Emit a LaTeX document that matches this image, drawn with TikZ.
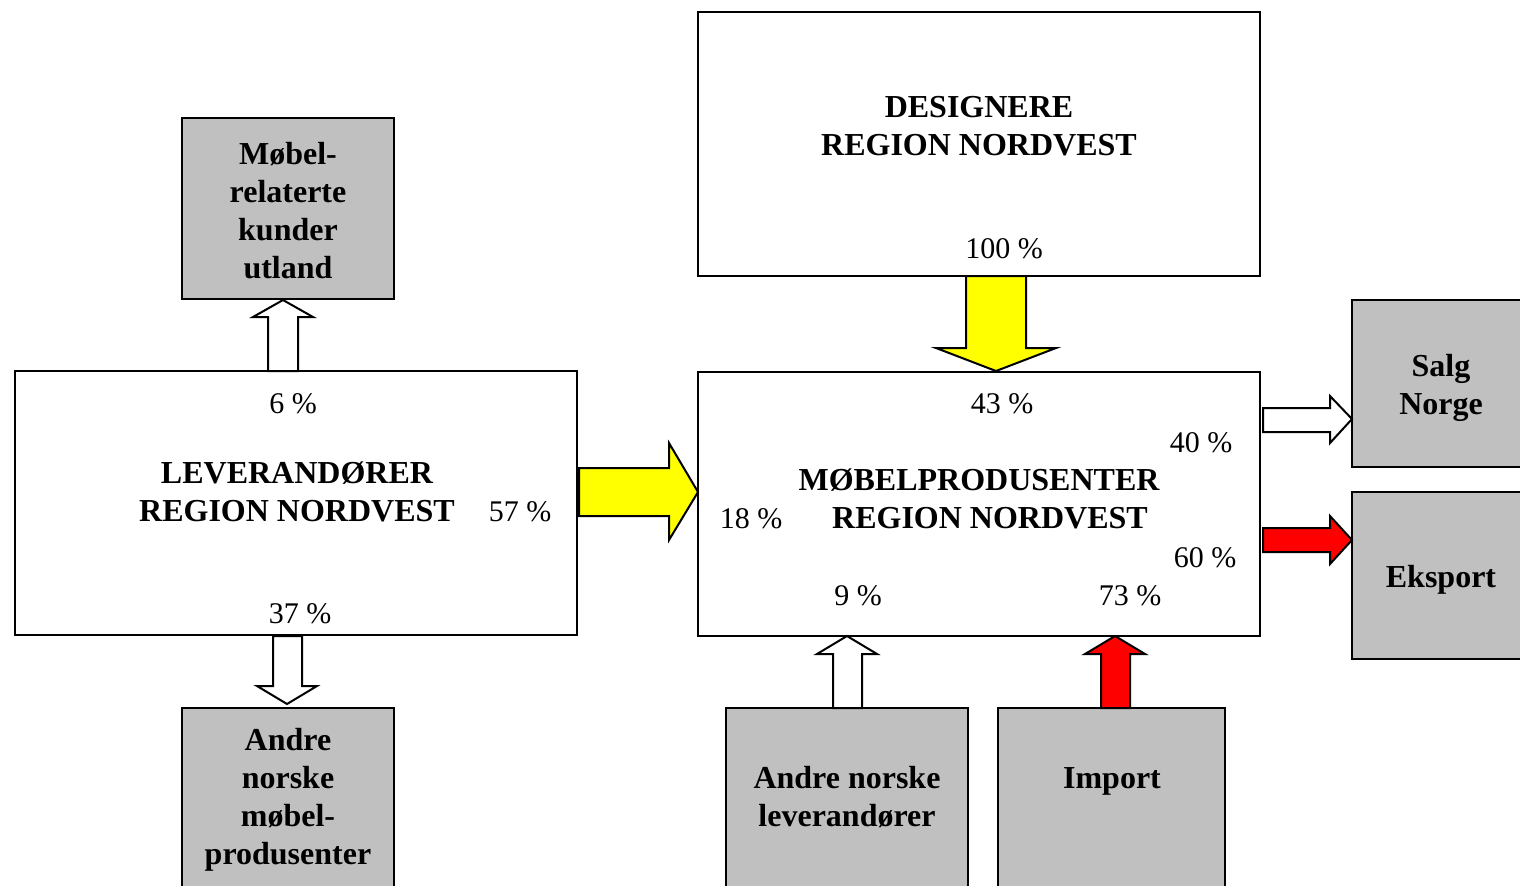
\documentclass[tikz,border=0pt]{standalone}
\usepackage{fontspec}
\setmainfont{Liberation Serif}
\definecolor{boxgray}{HTML}{C0C0C0}
\definecolor{ayellow}{HTML}{FFFF00}
\definecolor{ared}{HTML}{FF0000}
\begin{document}
\begin{tikzpicture}[x=0.5pt,y=-0.5pt,
  box/.style={draw=black, line width=1pt, inner sep=0pt, rectangle},
  graybox/.style={box, fill=boxgray},
  lbl/.style={font=\fontsize{16}{19}\selectfont\bfseries, align=center, inner sep=0pt},
  pct/.style={font=\fontsize{15}{18}\selectfont, inner sep=0pt},
  blockarrow/.style={draw=black, line width=1pt, line join=miter}]
\useasboundingbox[fill=white] (0,0) rectangle (1520,885);
% boxes
\node[graybox, minimum width=106pt, minimum height=90.5pt] (mobel) at (288,208.5) {};
\node[box, minimum width=281pt, minimum height=132pt] (lev) at (296,503) {};
\node[graybox, minimum width=106pt, minimum height=96pt] (andre) at (288,804) {};
\node[box, minimum width=281pt, minimum height=132pt] (des) at (979,144) {};
\node[box, minimum width=281pt, minimum height=132pt] (mp) at (979,504) {};
\node[graybox, minimum width=89pt, minimum height=83.5pt] (salg) at (1441,383.5) {};
\node[graybox, minimum width=89pt, minimum height=83.5pt] (eks) at (1441,575.5) {};
\node[graybox, minimum width=121pt, minimum height=96pt] (anl) at (847,804) {};
\node[graybox, minimum width=113.5pt, minimum height=96pt] (imp) at (1111.5,804) {};
% block arrows
\draw[blockarrow, fill=white] (268,371) -- (268,317) -- (253,317) -- (283,300) -- (313,317) -- (298,317) -- (298,371) -- cycle;
\draw[blockarrow, fill=white] (273,636) -- (273,686) -- (257,686) -- (287,704) -- (317,686) -- (302,686) -- (302,636) -- cycle;
\draw[blockarrow, fill=ayellow] (579,468) -- (669,468) -- (669,443) -- (698,492) -- (669,540) -- (669,516) -- (579,516) -- cycle;
\draw[blockarrow, fill=ayellow] (966,276) -- (966,348) -- (936,348) -- (996,371) -- (1056,348) -- (1026,348) -- (1026,276) -- cycle;
\draw[blockarrow, fill=white] (1263,408) -- (1330,408) -- (1330,396) -- (1352,419) -- (1330,443) -- (1330,432) -- (1263,432) -- cycle;
\draw[blockarrow, fill=ared] (1263,528) -- (1330,528) -- (1330,516) -- (1352,540) -- (1330,564) -- (1330,552) -- (1263,552) -- cycle;
\draw[blockarrow, fill=white] (833,708) -- (833,654) -- (817,654) -- (847,636) -- (877,654) -- (862,654) -- (862,708) -- cycle;
\draw[blockarrow, fill=ared] (1101,708) -- (1101,654) -- (1085,654) -- (1115,636) -- (1145,654) -- (1130,654) -- (1130,708) -- cycle;
% labels
\node[lbl] (tmobel) at (288,211) {Møbel-\\relaterte\\kunder\\utland};
\node[lbl] (tlev) at (297,492) {LEVERANDØRER\\REGION NORDVEST};
\node[lbl] (tandre) at (288,800) {Andre\\norske\\møbel-\\produsenter};
\node[lbl] (tdes) at (979,126) {DESIGNERE\\REGION NORDVEST};
\node[lbl] (tmp1) at (979,480) {MØBELPRODUSENTER};
\node[lbl] (tmp2) at (990,518) {REGION NORDVEST};
\node[lbl] (tsalg) at (1441,388) {Salg\\Norge};
\node[lbl] (teks) at (1441,580) {Eksport};
\node[lbl] (tanl) at (847,797) {Andre norske\\leverandører};
\node[lbl] (timp) at (1112,781) {Import};
\node[pct] (p6) at (293,404) {6 \%};
\node[pct] (p57) at (520,512) {57 \%};
\node[pct] (p37) at (300,614) {37 \%};
\node[pct] (p100) at (1004,249) {100 \%};
\node[pct] (p43) at (1002,404) {43 \%};
\node[pct] (p40) at (1201,443) {40 \%};
\node[pct] (p18) at (751,519) {18 \%};
\node[pct] (p60) at (1205,558) {60 \%};
\node[pct] (p9) at (858,596) {9 \%};
\node[pct] (p73) at (1130,596) {73 \%};
\end{tikzpicture}
\end{document}
